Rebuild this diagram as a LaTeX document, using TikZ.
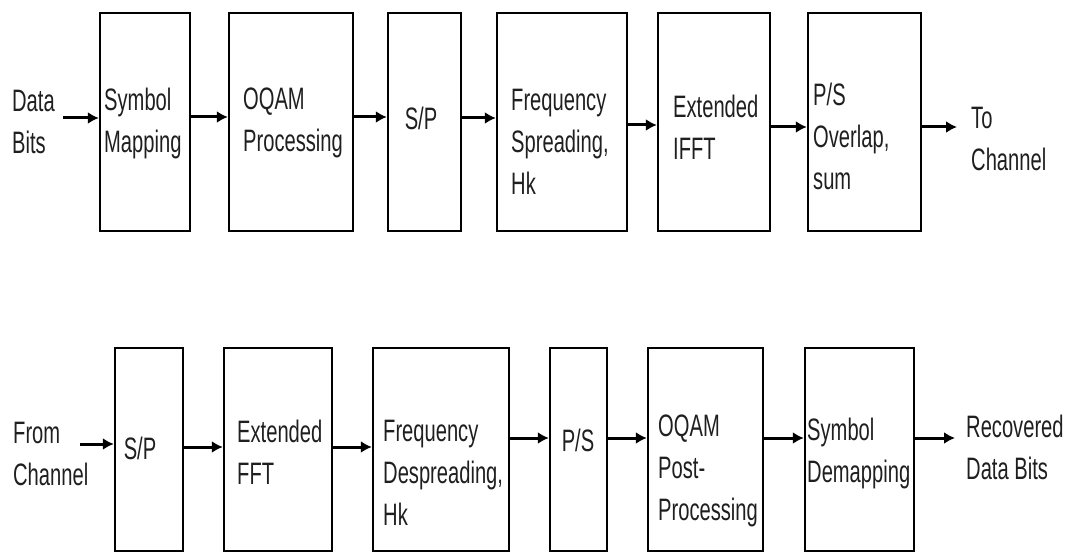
\documentclass[tikz,border=0pt]{standalone}
\usepackage{fontspec}
\setmainfont[FakeStretch=0.65]{Liberation Sans}
\usetikzlibrary{arrows.meta}

\begin{document}
\begin{tikzpicture}[x=1pt, y=-1pt,
    font=\fontsize{31}{42}\selectfont,
    blk/.style={draw, line width=2.4pt, minimum width=#1, minimum height=218pt, inner sep=0pt},
    blkb/.style={blk=#1, minimum height=203pt},
    txt/.style={anchor=north west, inner sep=0pt, align=left, text=black!88},
    arr/.style={line width=3pt, -{Latex[length=11pt,width=12pt]}}]
    \useasboundingbox (0,0) rectangle (1068,553);

    % transmitter
    \node[blk=90pt]  (sm)  at (145,122)   {};
    \node[blk=124pt] (oq)  at (291,122)   {};
    \node[blk=73pt]  (sp)  at (424.5,122) {};
    \node[blk=130pt] (fs)  at (562,122)   {};
    \node[blk=112pt] (ifft) at (714,122)  {};
    \node[blk=113pt] (po)  at (864.5,122) {};

    \node[txt] (data) at (12,90)  {Data\\Bits};
    \node[txt] (smt)  at (104,88) {Symbol\\Mapping};
    \node[txt] (oqt)  at (243,88) {OQAM\\Processing};
    \node[inner sep=0pt, text=black!88] (spt) at (421,118) {S/P};
    \node[txt] (fst)  at (511,89) {Frequency\\Spreading,\\Hk};
    \node[txt] (ifftt) at (673,95) {Extended\\IFFT};
    \node[txt] (pot)  at (813,83) {P/S\\Overlap,\\sum};
    \node[txt] (tch)  at (971,107) {To\\Channel};

    \coordinate (in1s) at (63,118);
    \draw[arr] (in1s) -- (in1s -| sm.west);
    \draw[arr] ([yshift=5pt]sm.east) -- ([yshift=5pt]oq.west);
    \draw[arr] ([yshift=5pt]oq.east) -- ([yshift=5pt]sp.west);
    \draw[arr] ([yshift=4pt]sp.east) -- ([yshift=4pt]fs.west);
    \draw[arr] ([yshift=-3pt]fs.east) -- ([yshift=-3pt]ifft.west);
    \draw[arr] ([yshift=-5pt]ifft.east) -- ([yshift=-5pt]po.west);
    \draw[arr, shorten >=14pt] ([yshift=-5pt]po.east) -- ([yshift=-5pt]po.east -| tch.west);

    % receiver
    \node[blkb=68pt]  (rsp) at (149,449.5)   {};
    \node[blkb=108pt] (fft) at (278,449.5)   {};
    \node[blkb=136pt] (fd)  at (441,449.5)   {};
    \node[blkb=57pt]  (ps)  at (578.5,449.5) {};
    \node[blkb=115pt] (op)  at (705.5,449.5) {};
    \node[blkb=109pt] (sd)  at (859.5,449.5) {};

    \node[txt] (fch)  at (13,422)  {From\\Channel};
    \node[inner sep=0pt, text=black!88] (rspt) at (140,448) {S/P};
    \node[txt] (fftt) at (237,420) {Extended\\FFT};
    \node[txt] (fdt)  at (383,420) {Frequency\\Despreading,\\Hk};
    \node[inner sep=0pt, text=black!88] (pst) at (578,440) {P/S};
    \node[txt] (opt)  at (658,415) {OQAM\\Post-\\Processing};
    \node[txt] (sdt)  at (807,418) {Symbol\\Demapping};
    \node[txt] (rec)  at (966,415) {Recovered\\Data Bits};

    \coordinate (in2s) at (80,444);
    \draw[arr] (in2s) -- (in2s -| rsp.west);
    \draw[arr] ([yshift=2.5pt]rsp.east) -- ([yshift=2.5pt]fft.west);
    \draw[arr] ([yshift=2.5pt]fft.east) -- ([yshift=2.5pt]fd.west);
    \draw[arr] ([yshift=11.5pt]fd.east) -- ([yshift=11.5pt]ps.west);
    \draw[arr] ([yshift=11.5pt]ps.east) -- ([yshift=11.5pt]op.west);
    \draw[arr] ([yshift=11.5pt]op.east) -- ([yshift=11.5pt]sd.west);
    \draw[arr, shorten >=11pt] ([yshift=11.5pt]sd.east) -- ([yshift=11.5pt]sd.east -| rec.west);
\end{tikzpicture}
\end{document}
